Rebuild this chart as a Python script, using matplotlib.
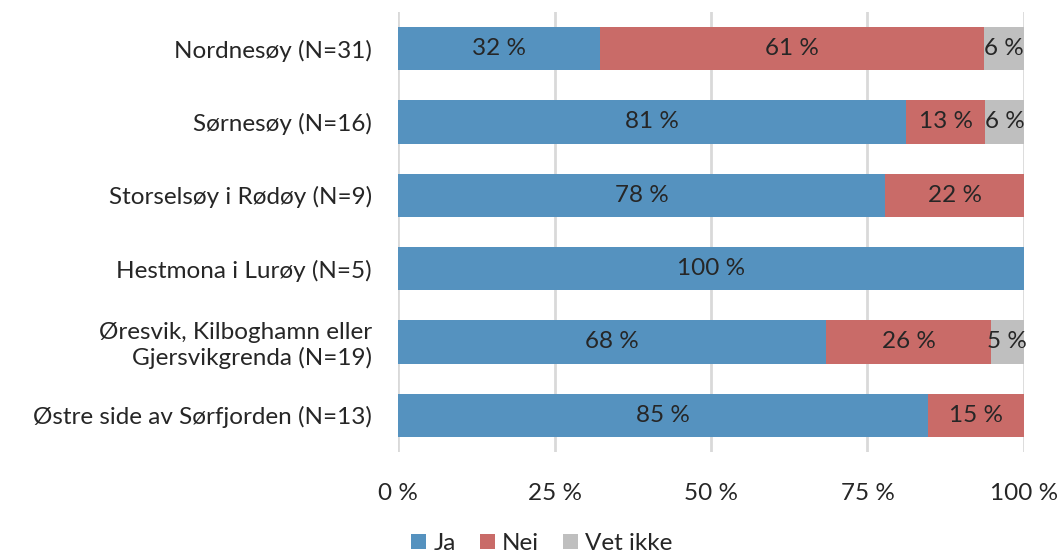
import matplotlib

matplotlib.use("agg")
import matplotlib.pyplot as plt
import numpy as np

plt.rcParams["font.family"] = ["Lato", "DejaVu Sans"]

# Data (share of respondents, per cent)
categories = ["Nordnesøy (N=31)", "Sørnesøy (N=16)", "Storselsøy i Rødøy (N=9)",
              "Hestmona i Lurøy (N=5)", "Øresvik, Kilboghamn eller\nGjersvikgrenda (N=19)",
              "Østre side av Sørfjorden (N=13)"]
ja = [32.3, 81.2, 77.8, 100.0, 68.4, 84.6]
nei = [61.3, 12.6, 22.2, 0.0, 26.3, 15.4]
vet_ikke = [6.4, 6.2, 0.0, 0.0, 5.3, 0.0]
series_names = ["Ja", "Nei", "Vet ikke"]
colors = ["#5592BF", "#C96B68", "#BFBFBF"]
xticks = [0, 25, 50, 75, 100]

fig = plt.figure(figsize=(10.62, 5.58), dpi=100)
ax = fig.add_axes([0.3748, 0.19, 0.5894, 0.7885])

y = np.arange(len(categories))
left = np.zeros(len(categories))
for name, vals, col in zip(series_names, [ja, nei, vet_ikke], colors):
    vals = np.array(vals)
    ax.barh(y, vals, left=left, height=0.59, color=col, label=name, zorder=2)
    for yi, l, v in zip(y, left, vals):
        if v > 0:
            ax.text(l + v / 2, yi, f"{v:.0f} %", ha="center", va="center",
                    fontsize=17.5, color="#262626", zorder=3)
    left += vals

ax.set_ylim(len(categories) - 0.5, -0.5)
ax.set_xlim(0, 100)
ax.set_yticks(y)
ax.set_yticklabels(categories, fontsize=17.5, color="#262626")
ax.set_xticks(xticks)
ax.set_xticklabels([f"{t} %" for t in xticks], fontsize=17.5, color="#262626")
ax.tick_params(axis="y", length=0, pad=19)
ax.tick_params(axis="x", length=0, pad=22)
ax.xaxis.grid(True, color="#D9D9D9", linewidth=2, zorder=0)
for s in ax.spines.values():
    s.set_visible(False)

ax.legend(loc="upper center", bbox_to_anchor=(0.23, -0.135), ncol=3, frameon=False,
          fontsize=17.5, handlelength=0.6, handleheight=0.6, handletextpad=0.3,
          columnspacing=1.0, labelcolor="#262626")

fig.savefig("out.png", dpi=100)
